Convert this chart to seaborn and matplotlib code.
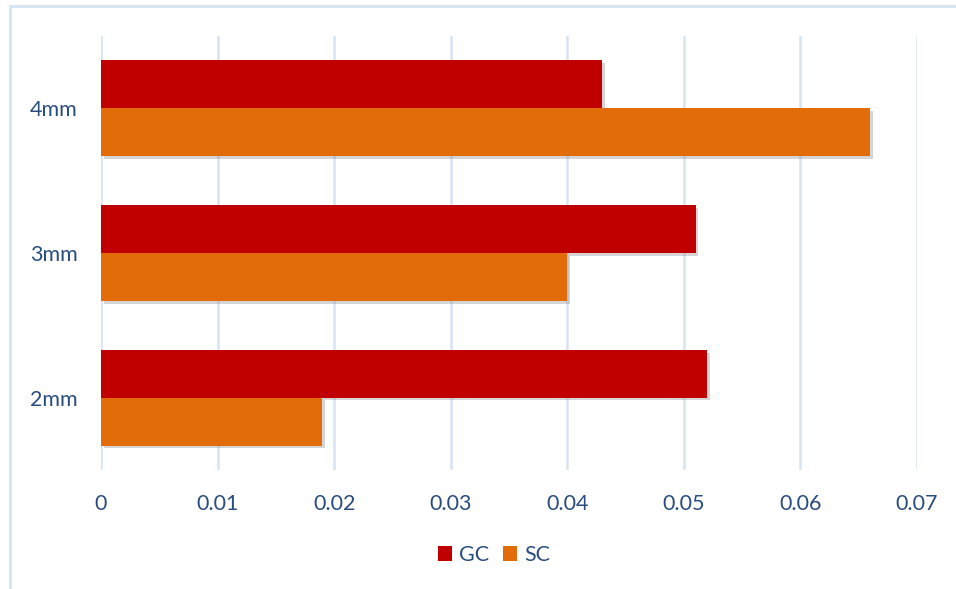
import matplotlib
matplotlib.use("Agg")
import matplotlib.pyplot as plt
import matplotlib.patheffects as pe
from matplotlib.patches import Rectangle, Patch
import seaborn as sns
import pandas as pd

categories = ["4mm", "3mm", "2mm"]
series_names = ["GC", "SC"]
gc_values = [0.043, 0.051, 0.052]
sc_values = [0.066, 0.040, 0.019]
x_ticks = [0, 0.01, 0.02, 0.03, 0.04, 0.05, 0.06, 0.07]
x_tick_labels = ["0", "0.01", "0.02", "0.03", "0.04", "0.05", "0.06", "0.07"]
colors = ["#C00000", "#E36C0A"]

df = pd.DataFrame({
    "size": categories * 2,
    "series": [series_names[0]] * 3 + [series_names[1]] * 3,
    "value": gc_values + sc_values,
})

sns.set_theme(style="white")
plt.rcParams["font.family"] = ["Lato", "DejaVu Sans"]
text_color = "#2A4D7F"

fig = plt.figure(figsize=(9.56, 5.89), dpi=100)
W, H = 956, 589
ax = fig.add_axes([101 / W, 1 - 470 / H, (917 - 101) / W, (470 - 36) / H])

sns.barplot(data=df, x="value", y="size", hue="series", order=categories,
            hue_order=series_names, palette=colors, orient="h", width=0.662,
            ax=ax, legend=False, saturation=1)

for p in ax.patches:
    p.set_linewidth(0)
    p.set_path_effects([pe.SimplePatchShadow(offset=(2, -2), shadow_rgbFace="#888888", alpha=0.35), pe.Normal()])

ax.set_xlim(0, 0.07)
ax.set_ylim(2.5, -0.5)
ax.set_xticks(x_ticks)
ax.set_xticklabels(x_tick_labels)
ax.xaxis.grid(True, color="#D6E3F3", linewidth=1.8)
ax.set_axisbelow(True)
for s in ax.spines.values():
    s.set_visible(False)
ax.tick_params(axis="x", length=0, pad=17, labelsize=15.5, labelcolor=text_color)
ax.tick_params(axis="y", length=0, pad=17, labelsize=15.5, labelcolor=text_color)
ax.set_xlabel("")
ax.set_ylabel("")

handles = [Patch(facecolor=c, edgecolor="none") for c in colors]
fig.legend(handles, series_names, loc="center", bbox_to_anchor=(494 / W, 1 - 555 / H),
           ncol=2, frameon=False, fontsize=15.5, handlelength=0.65, handleheight=0.65,
           handletextpad=0.35, columnspacing=0.6, labelcolor=text_color)

fig.patches.append(Rectangle((10 / W, -0.05), 1.2, 1 - 6 / H + 0.05, transform=fig.transFigure,
                             fill=False, edgecolor="#D6E3F3", linewidth=2))

fig.savefig("out.png", dpi=100)
